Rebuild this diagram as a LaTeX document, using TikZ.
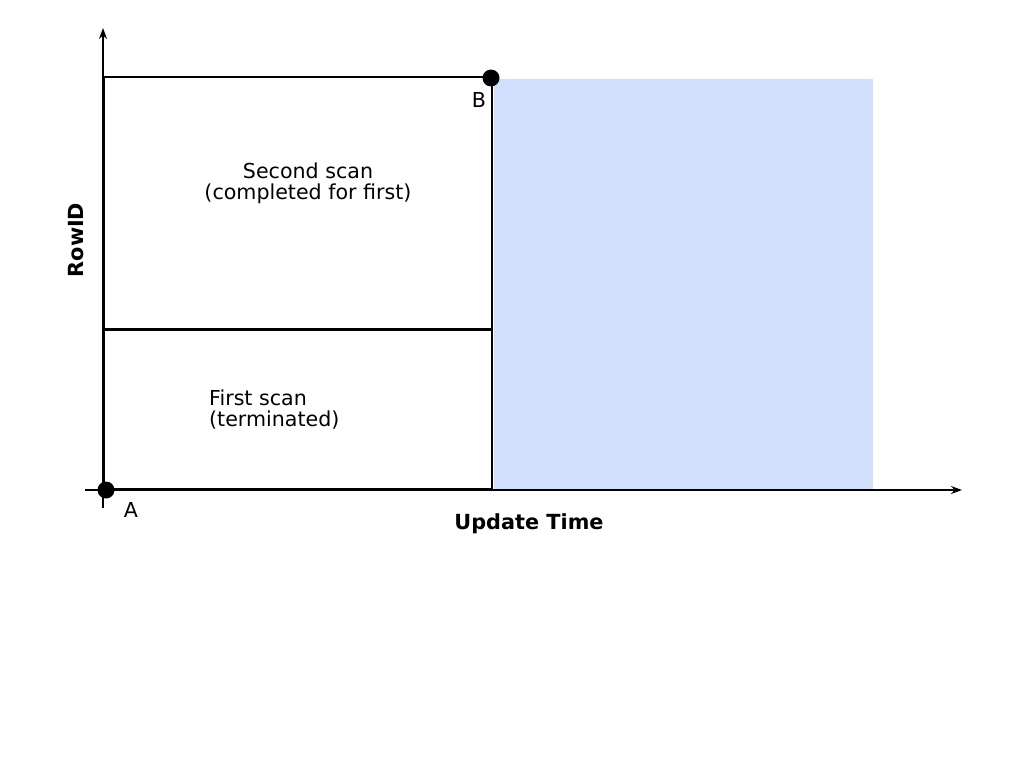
\documentclass[tikz,border=0pt]{standalone}
\usepackage{fontspec}
\setmainfont{DejaVu Sans}
\usetikzlibrary{arrows.meta}
\definecolor{areablue}{RGB}{208,224,252}
\begin{document}
\begin{tikzpicture}[x=1pt,y=-1pt,
  axis/.style={line width=1.4pt,-{Stealth[length=11pt,width=8pt]}},
  edge/.style={line width=2pt},
  lbl/.style={font=\fontsize{20.6}{21}\selectfont,inner sep=0pt},
  ttl/.style={font=\fontsize{20.8}{22}\selectfont\bfseries,inner sep=0pt},
  dot/.style={circle,fill=black,minimum size=17pt,inner sep=0pt}]
\useasboundingbox (0,0) rectangle (1024,768);
\fill[areablue] (494,79) rectangle (873,489);
\coordinate (yb) at (103,508);
\coordinate (yt) at (103,28);
\coordinate (xl) at (85,490);
\coordinate (xr) at (962,490);
\draw[axis] (yb) -- (yt);
\draw[axis] (xl) -- (xr);
\coordinate (p1) at (104,489);
\coordinate (p2) at (104,77);
\coordinate (p3) at (492,77);
\coordinate (p4) at (492,489);
\coordinate (m1) at (104,329);
\coordinate (m2) at (492,329);
\draw[edge] (p1) -- (p2) -- (p3) -- (p4) -- cycle;
\draw[line width=3pt] (m1) -- (m2);
\node[dot] (A) at (106,490) {};
\node[dot] (B) at (491,78) {};
\node[lbl] (la) at (131,510) {A};
\node[lbl] (lb) at (479,100) {B};
\node[lbl,align=center] (s2) at (308,183) {Second scan\\(completed for first)};
\node[lbl,align=left,anchor=west] (s1) at (209,410) {First scan\\(terminated)};
\node[ttl,rotate=90] (ry) at (76,240) {RowID};
\node[ttl] (ux) at (529,524) {Update Time};
\end{tikzpicture}
\end{document}
